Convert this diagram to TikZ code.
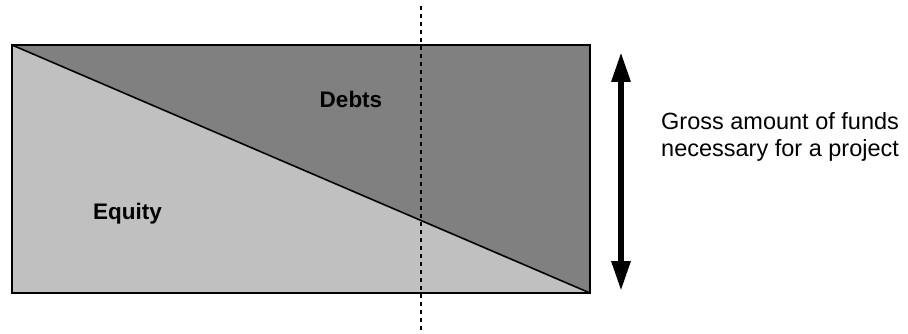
\documentclass[tikz,border=0pt]{standalone}
\usepackage{fontspec}
\setmainfont{Liberation Sans}
\usepackage{xcolor}
\definecolor{ColDebt}{RGB}{128,128,128}
\definecolor{ColEquity}{RGB}{192,192,192}
\usetikzlibrary{arrows.meta}
\tikzstyle{Frame}=[draw=black,line width=1.6pt]
\tikzstyle{Split}=[draw=black,line width=1.6pt,line cap=round]
\tikzstyle{Cut}=[draw=black,line width=2pt,dash pattern=on 4pt off 4pt]
\tikzstyle{Span}=[draw=black,line width=6pt,
    {Triangle[width=18pt,length=30pt]}-{Triangle[width=18pt,length=30pt]}]
\tikzstyle{NodeLab}=[font=\fontsize{22.5}{27}\selectfont\bfseries,inner sep=0pt,anchor=base]
\tikzstyle{NodeTxt}=[font=\fontsize{23.5}{27}\selectfont,align=left,anchor=base west,inner sep=0pt]

\begin{document}
\begin{tikzpicture}[x=1pt,y=-1pt]
        \useasboundingbox (0,0) rectangle (908,334);
        \coordinate(tl)at(12,45);
        \coordinate(tr)at(590,45);
        \coordinate(br)at(590,293);
        \coordinate(bl)at(12,293);
        \fill[ColDebt](tl)--(tr)--(br)--cycle;
        \fill[ColEquity](tl)--(br)--(bl)--cycle;
        \draw[Split](tl)--(br);
        \draw[Frame](tl)rectangle(br);
        \coordinate(ctop)at(421,6);
        \coordinate(cbot)at(421,334);
        \draw[Cut](ctop)--(cbot);
        \coordinate(up)at(621,52);
        \coordinate(down)at(621,291);
        \draw[Span](up)--(down);
        \node[NodeLab](debts)at(351,107.7){Debts};
        \node[NodeLab](equity)at(127.5,219){Equity};
        \node[NodeTxt](funds)at(661,157){Gross amount of funds\\necessary for a project};
    \end{tikzpicture}
\end{document}
